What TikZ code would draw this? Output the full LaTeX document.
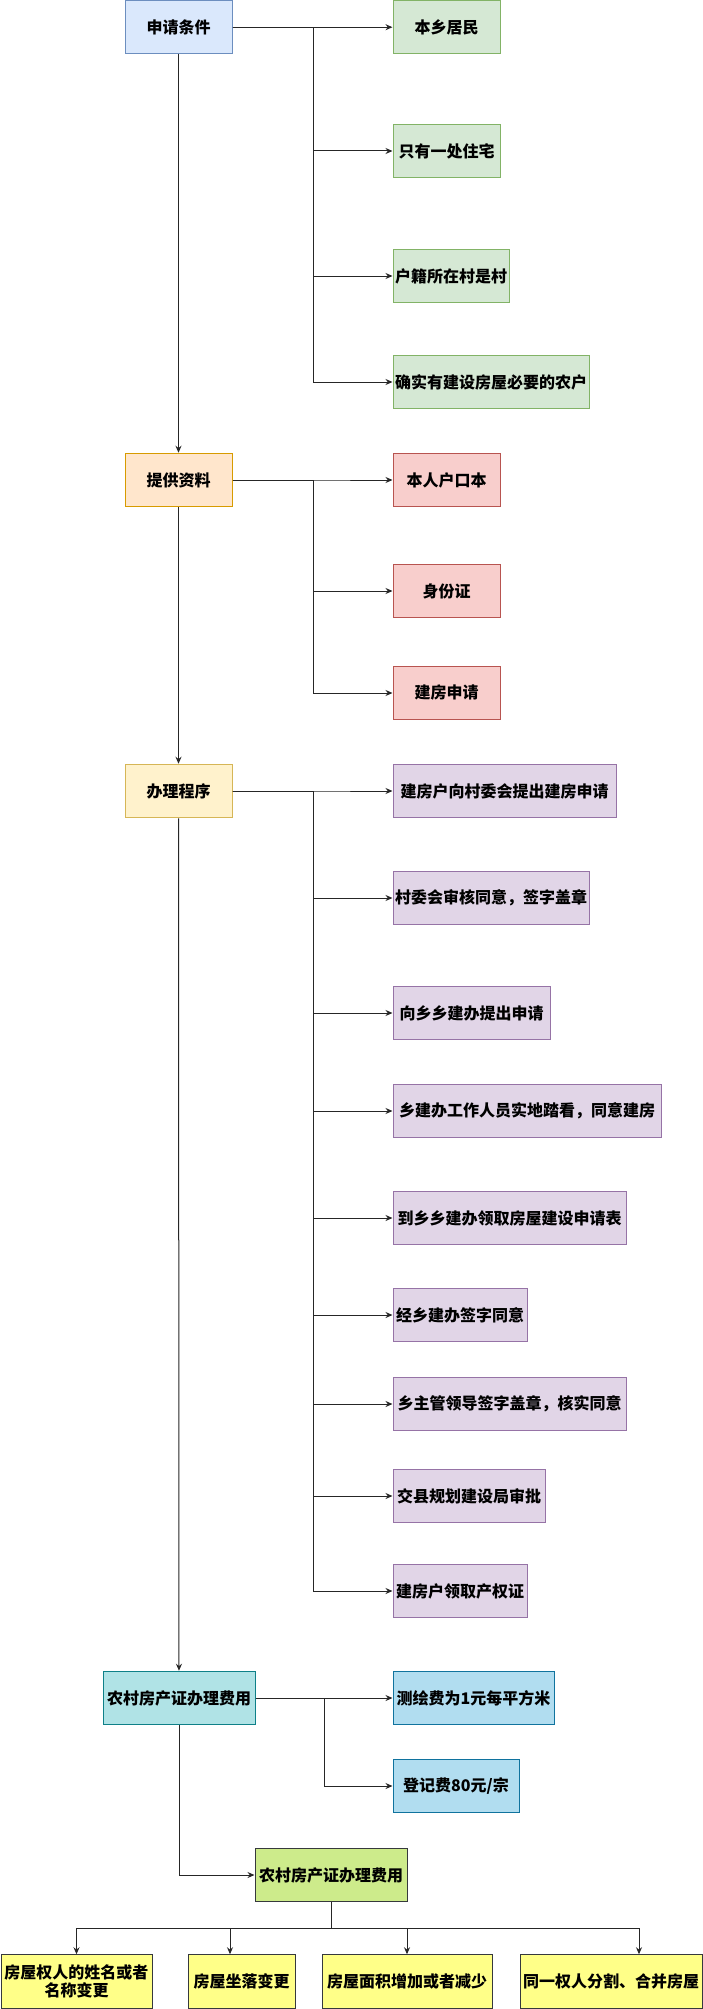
\documentclass[tikz,border=0pt]{standalone}
\usepackage{fontspec}
\setmainfont{Noto Sans CJK SC}
\newfontfamily\cjk{Noto Sans CJK SC}
\usetikzlibrary{arrows.meta}
\definecolor{bluef}{HTML}{DAE8FC}\definecolor{blued}{HTML}{6C8EBF}
\definecolor{greenf}{HTML}{D5E8D4}\definecolor{greend}{HTML}{82B366}
\definecolor{orangef}{HTML}{FFE6CC}\definecolor{oranged}{HTML}{D79B00}
\definecolor{redf}{HTML}{F8CECC}\definecolor{redd}{HTML}{B85450}
\definecolor{yellowf}{HTML}{FFF2CC}\definecolor{yellowd}{HTML}{D6B656}
\definecolor{purplef}{HTML}{E1D5E7}\definecolor{purpled}{HTML}{9673A6}
\definecolor{cyanf}{HTML}{B0E3E6}\definecolor{cyand}{HTML}{0E8088}
\definecolor{lbluef}{HTML}{B1DDF0}\definecolor{lblued}{HTML}{10739E}
\definecolor{limef}{HTML}{CDEB8B}\definecolor{greyd}{HTML}{36393D}
\definecolor{byellowf}{HTML}{FFFF88}
\begin{document}
\begin{tikzpicture}[x=1pt,y=-1pt,
  box/.style={draw, inner sep=0pt, minimum height=53.5pt, line width=1pt,
    font=\cjk\bfseries\fontsize{16}{18}\selectfont, align=center, text=black},
  sblue/.style={fill=bluef, draw=blued},
  sgreen/.style={fill=greenf, draw=greend},
  sorange/.style={fill=orangef, draw=oranged},
  sred/.style={fill=redf, draw=redd},
  syellow/.style={fill=yellowf, draw=yellowd},
  spurple/.style={fill=purplef, draw=purpled},
  scyan/.style={fill=cyanf, draw=cyand},
  slblue/.style={fill=lbluef, draw=lblued},
  slime/.style={fill=limef, draw=greyd},
  sbyellow/.style={fill=byellowf, draw=greyd},
  arr/.style={-{Stealth[length=7pt,width=6pt]}, line width=1pt, draw=black!85},
  ln/.style={line width=1pt, draw=black!85}]
\useasboundingbox (0,0) rectangle (703,2009);

% column 1
\node[box, sblue, minimum width=107pt] (a) at (178.5,27.2) {申请条件};
\node[box, sorange, minimum width=107pt] (b) at (178.5,480) {提供资料};
\node[box, syellow, minimum width=107pt] (c) at (178.5,791) {办理程序};
\node[box, scyan, minimum width=152pt] (d) at (179,1698) {农村房产证办理费用};
\node[box, slime, minimum width=152pt] (e) at (331,1875) {农村房产证办理费用};

% group a
\node[box, sgreen, minimum width=107pt] (a1) at (446.5,27.2) {本乡居民};
\node[box, sgreen, minimum width=107pt] (a2) at (446.5,151) {只有一处住宅};
\node[box, sgreen, minimum width=116pt] (a3) at (451,276) {户籍所在村是村};
\node[box, sgreen, minimum width=196pt] (a4) at (491,382) {确实有建设房屋必要的农户};

% group b
\node[box, sred, minimum width=107pt] (b1) at (446.5,480) {本人户口本};
\node[box, sred, minimum width=107pt] (b2) at (446.5,591) {身份证};
\node[box, sred, minimum width=107pt] (b3) at (446.5,693) {建房申请};

% group c
\node[box, spurple, minimum width=223pt] (c1) at (504.5,791) {建房户向村委会提出建房申请};
\node[box, spurple, minimum width=196pt] (c2) at (491,898) {村委会审核同意，签字盖章};
\node[box, spurple, minimum width=157pt] (c3) at (471.5,1013) {向乡乡建办提出申请};
\node[box, spurple, minimum width=268pt] (c4) at (527,1111) {乡建办工作人员实地踏看，同意建房};
\node[box, spurple, minimum width=233pt] (c5) at (509.5,1218) {到乡乡建办领取房屋建设申请表};
\node[box, spurple, minimum width=134pt] (c6) at (460,1315) {经乡建办签字同意};
\node[box, spurple, minimum width=233pt] (c7) at (509.5,1404) {乡主管领导签字盖章，核实同意};
\node[box, spurple, minimum width=152pt] (c8) at (469,1496) {交县规划建设局审批};
\node[box, spurple, minimum width=134pt] (c9) at (460,1591) {建房户领取产权证};

% group d
\node[box, slblue, minimum width=161pt] (d1) at (473.5,1698) {测绘费为1元每平方米};
\node[box, slblue, minimum width=126pt] (d2) at (456,1786) {登记费80元/宗};

% group e
\node[box, sbyellow, minimum width=151pt] (e1) at (76.5,1981.5) {房屋权人的姓名或者\\名称变更};
\node[box, sbyellow, minimum width=107pt] (e2) at (241.5,1981.5) {房屋坐落变更};
\node[box, sbyellow, minimum width=170pt] (e3) at (407,1981.5) {房屋面积增加或者减少};
\node[box, sbyellow, minimum width=182pt] (e4) at (611,1981.5) {同一权人分割、合并房屋};

% main column
\draw[arr] (a) -- (b);
\draw[arr] (b) -- (c);
\draw[arr] (c) -- (d);
\draw[arr] (d.south) |- (e.west);

% branches a
\foreach \t in {a1,a2,a3,a4} \draw[arr] (a.east) -- ++(81,0) |- (\t.west);
\foreach \t in {b1,b2,b3} \draw[arr] (b.east) -- ++(81,0) |- (\t.west);
\foreach \t in {c1,c2,c3,c4,c5,c6,c7,c8,c9} \draw[arr] (c.east) -- ++(81,0) |- (\t.west);
\foreach \t in {d1,d2} \draw[arr] (d.east) -- ++(69,0) |- (\t.west);

% bottom tree
\coordinate (eb) at ([yshift=26pt]e.south);
\draw[arr] (e.south) -- ++(0,26) -| (e1.north);
\draw[arr] (e.south) -- ++(0,26) -| ([xshift=-11.5pt]e2.north);
\draw[arr] (e.south) -- ++(0,26) -| (e3.north);
\draw[arr] (e.south) -- ++(0,26) -| ([xshift=28pt]e4.north);
\end{tikzpicture}
\end{document}
